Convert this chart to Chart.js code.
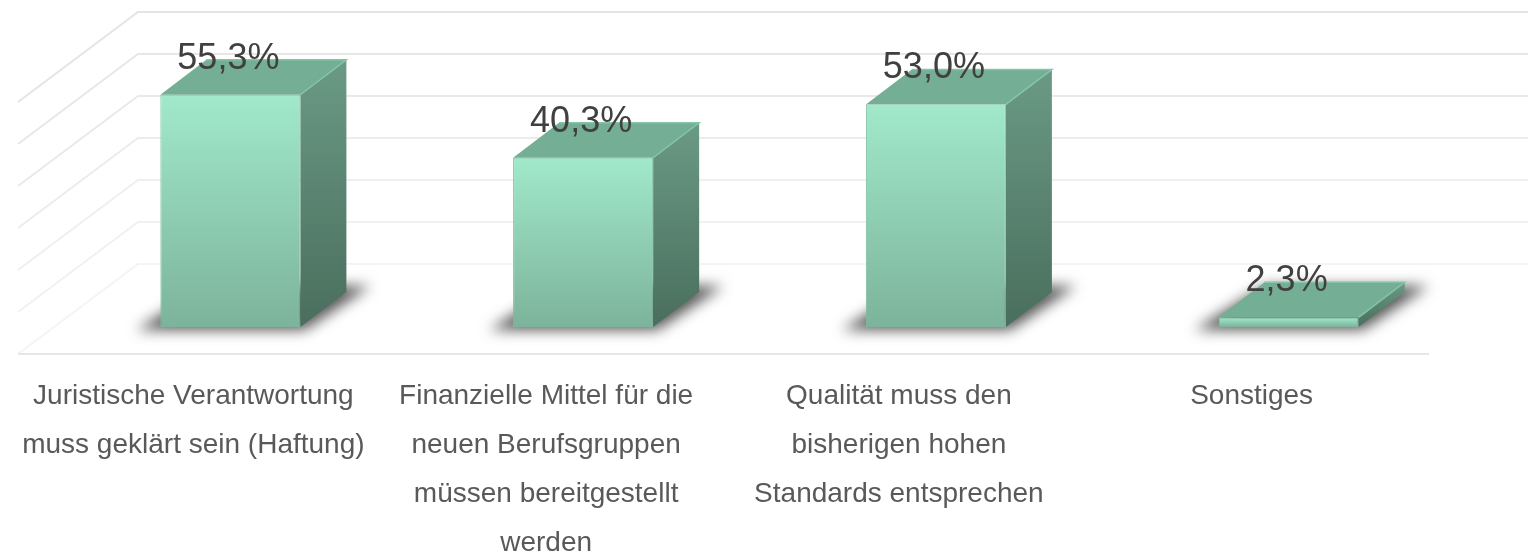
<!doctype html>
<html lang="de">

<head>
    <meta charset="utf-8">
    <title>Chart</title>
    <style>
        * {
            margin: 0;
            padding: 0;
        }

        body {
            background: white;
        }

        canvas {
            display: block;
        }
    </style>
</head>

<body>
    <canvas id="myChart" width="1528" height="552"></canvas>

    <script src="https://cdn.jsdelivr.net/npm/chart.js"></script>

    <script>
        const categories = [
            ['Juristische Verantwortung', 'muss geklärt sein (Haftung)'],
            ['Finanzielle Mittel für die', 'neuen Berufsgruppen', 'müssen bereitgestellt', 'werden'],
            ['Qualität muss den', 'bisherigen hohen', 'Standards entsprechen'],
            ['Sonstiges']
        ]
        const values = [55.3, 40.3, 53.0, 2.3]
        const axisMin = 0
        const axisMax = 60
        const axisStep = 10

        const fontName = '"Liberation Sans", Arial, sans-serif'

        // fake 3d, offsets in px from the plane the bars stand on
        const barDepth = { x: 46, y: -35 }
        const backWall = { x: 84, y: -63 }
        const frontEdge = { x: -36, y: 27 }

        function linearFill(ctx, x0, y0, x1, y1, from, to) {
            const g = ctx.createLinearGradient(x0, y0, x1, y1)
            g.addColorStop(0, from)
            g.addColorStop(1, to)
            return g
        }

        function polygon(ctx, pts) {
            ctx.beginPath()
            pts.forEach((p, i) => i ? ctx.lineTo(p[0], p[1]) : ctx.moveTo(p[0], p[1]))
            ctx.closePath()
        }

        const walls3d = {
            id: 'walls3d',
            beforeDatasetsDraw(chart) {
                const { ctx, chartArea, scales } = chart
                const left = chartArea.left
                ctx.save()
                ctx.lineWidth = 2
                scales.y.ticks.forEach(t => {
                    const y = scales.y.getPixelForValue(t.value)
                    const shade = Math.round(228 + 16 * (1 - t.value / axisMax))
                    ctx.strokeStyle = `rgb(${shade},${shade},${shade})`
                    ctx.beginPath()
                    ctx.moveTo(left + frontEdge.x, y + frontEdge.y)
                    ctx.lineTo(left + backWall.x, y + backWall.y)
                    ctx.lineTo(chart.width, y + backWall.y)
                    ctx.stroke()
                })
                // front floor edge
                const y0 = scales.y.getPixelForValue(axisMin) + frontEdge.y
                ctx.strokeStyle = '#e6e6e6'
                ctx.beginPath()
                ctx.moveTo(left + frontEdge.x, y0)
                ctx.lineTo(chartArea.right + frontEdge.x, y0)
                ctx.stroke()
                ctx.restore()
            }
        }

        const boxes3d = {
            id: 'boxes3d',
            beforeDatasetsDraw(chart) {
                const { ctx } = chart
                const bars = chart.getDatasetMeta(0).data
                ctx.save()
                // shadows on the floor
                ctx.filter = 'blur(7px)'
                ctx.fillStyle = 'rgba(45,45,45,0.8)'
                bars.forEach(b => {
                    const x0 = b.x - b.width / 2
                    const x1 = b.x + b.width / 2
                    polygon(ctx, [
                        [x0 - 24, b.base + 3],
                        [x1 + 4, b.base + 3],
                        [x1 + barDepth.x + 24, b.base + barDepth.y - 6],
                        [x0 + barDepth.x, b.base + barDepth.y - 6]
                    ])
                    ctx.fill()
                })
                ctx.filter = 'none'
                // side and top faces
                bars.forEach(b => {
                    const x0 = b.x - b.width / 2
                    const x1 = b.x + b.width / 2
                    const dx = barDepth.x
                    const dy = barDepth.y
                    ctx.fillStyle = linearFill(ctx, 0, b.y + dy, 0, b.base, '#6a9a85', '#4a6e5d')
                    polygon(ctx, [[x1, b.y], [x1 + dx, b.y + dy], [x1 + dx, b.base + dy], [x1, b.base]])
                    ctx.fill()
                    ctx.fillStyle = '#74ae95'
                    polygon(ctx, [[x0, b.y], [x0 + dx, b.y + dy], [x1 + dx, b.y + dy], [x1, b.y]])
                    ctx.fill()
                    // light edge round the top
                    ctx.strokeStyle = '#86c4a9'
                    ctx.lineWidth = 1.5
                    ctx.beginPath()
                    ctx.moveTo(x1, b.y)
                    ctx.lineTo(x1 + dx, b.y + dy)
                    ctx.lineTo(x0 + dx, b.y + dy)
                    ctx.stroke()
                })
                ctx.restore()
            },
            afterDatasetsDraw(chart) {
                const { ctx } = chart
                ctx.save()
                ctx.font = '36px ' + fontName
                ctx.fillStyle = '#404040'
                ctx.textAlign = 'center'
                ctx.textBaseline = 'middle'
                chart.getDatasetMeta(0).data.forEach((b, i) => {
                    const text = values[i].toFixed(1).replace('.', ',') + '%'
                    ctx.fillText(text, b.x - 2, b.y - 36)
                })
                ctx.restore()
            }
        }

        const myChart = new Chart(document.getElementById('myChart'), {
            type: 'bar',
            data: {
                labels: categories,
                datasets: [{
                    data: values,
                    backgroundColor(c) {
                        // no scales yet on the first pass
                        if (!c.chart.chartArea) return '#8fcfb3'
                        const y = c.chart.scales.y
                        return linearFill(c.chart.ctx, 0, y.getPixelForValue(values[c.dataIndex]), 0, y.getPixelForValue(axisMin), '#a1e9ca', '#7cb39b')
                    },
                    borderColor: '#7cbfa2',
                    borderWidth: 1,
                    barPercentage: 0.397,
                    categoryPercentage: 1
                }]
            },
            plugins: [walls3d, boxes3d],
            options: {
                responsive: false,
                animation: false,
                layout: {
                    padding: { left: 54, right: 63, top: 75, bottom: 0 }
                },
                plugins: {
                    legend: { display: false },
                    tooltip: { enabled: false }
                },
                scales: {
                    x: {
                        border: { display: false },
                        grid: { display: false, drawTicks: false },
                        afterFit(scale) {
                            scale.height = 225
                        },
                        ticks: {
                            autoSkip: false,
                            maxRotation: 0,
                            padding: 45,
                            labelOffset: -37,
                            color: '#595959',
                            font: { family: fontName, size: 28, lineHeight: 1.75 }
                        }
                    },
                    y: {
                        display: false,
                        min: axisMin,
                        max: axisMax,
                        ticks: { stepSize: axisStep }
                    }
                }
            }
        })
    </script>
</body>

</html>
